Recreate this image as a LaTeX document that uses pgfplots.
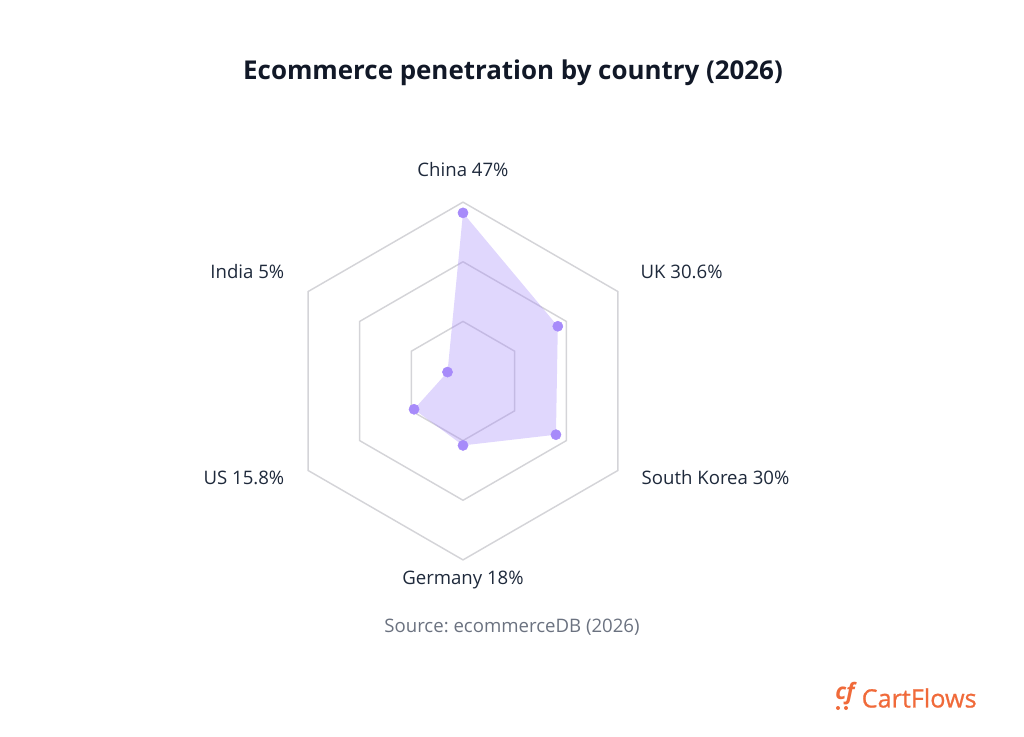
\documentclass[border=0pt]{standalone}
\usepackage{fontspec}
\setmainfont{Open Sans}
\newfontfamily\cffont[FakeBold=0.8]{Open Sans}
\usepackage{pgfplots}
\pgfplotsset{compat=1.18}
\usepgfplotslibrary{polar}
\definecolor{gridgray}{HTML}{D4D4D8}
\definecolor{violetdot}{HTML}{A78BFA}
\definecolor{inkdark}{HTML}{111827}
\definecolor{labelink}{HTML}{1E293B}
\definecolor{srcgray}{HTML}{6B7280}
\definecolor{cfor}{HTML}{F06A3A}

\begin{document}
\frenchspacing
\begin{tikzpicture}
% px frame: 1px = 0.75bp, y downward
\begin{scope}[x=0.75bp,y=-0.75bp]
  \path[use as bounding box] (0,0) rectangle (1024,737);
  \node[font=\bfseries\fontsize{19.5}{23}\selectfont, text=inkdark] at (513,73) {Ecommerce penetration by country (2026)};
  \node[font=\fontsize{14}{16}\selectfont, text=labelink] at (463,170) {China 47\%};
  \node[font=\fontsize{14}{16}\selectfont, text=labelink, anchor=west] at (636,272) {UK 30.6\%};
  \node[font=\fontsize{14}{16}\selectfont, text=labelink, anchor=west] at (637,478) {South Korea 30\%};
  \node[font=\fontsize{14}{16}\selectfont, text=labelink] at (463,580) {Germany 18\%};
  \node[font=\fontsize{14}{16}\selectfont, text=labelink, anchor=east] at (289,478) {US 15.8\%};
  \node[font=\fontsize{14}{16}\selectfont, text=labelink, anchor=east] at (289,272) {India 5\%};
  \node[font=\fontsize{14}{16}\selectfont, text=srcgray] at (512,627) {Source: ecommerceDB (2026)};
  \node[font=\cffont\fontsize{19}{21}\selectfont, text=cfor, anchor=west] at (857,698) {CartFlows};
  \node[font=\bfseries\fontsize{17}{18}\selectfont\itshape, text=cfor] at (845,694) {cf};
  \fill[cfor] (838,708) circle (2) (846,708) circle (2);
\end{scope}

\begin{axis}[
    at={(463*0.75bp,-381*0.75bp)}, anchor=origin,
    scale only axis,
    width=322bp, height=322bp,
    xmin=-60, xmax=60, ymin=-60, ymax=60,
    axis lines=none, ticks=none,
    clip=false,
    data cs=polar,
  ]
  % hexagonal grid rings
  \addplot[gridgray, line width=1.1bp, no marks] coordinates {(90,50) (30,50) (-30,50) (-90,50) (-150,50) (150,50) (90,50)};
  \addplot[gridgray, line width=1.1bp, no marks] coordinates {(90,33.333) (30,33.333) (-30,33.333) (-90,33.333) (-150,33.333) (150,33.333) (90,33.333)};
  \addplot[gridgray, line width=1.1bp, no marks] coordinates {(90,16.667) (30,16.667) (-30,16.667) (-90,16.667) (-150,16.667) (150,16.667) (90,16.667)};
  % data: China, UK, South Korea, Germany, US, India
  \addplot[draw=none, fill=violetdot, fill opacity=0.35, mark=none] coordinates {(90,47) (30,30.6) (-30,30) (-90,18) (-150,15.8) (150,5)} -- cycle;
  \addplot[only marks, mark=*, mark size=3.8bp, violetdot] coordinates {(90,47) (30,30.6) (-30,30) (-90,18) (-150,15.8) (150,5)};
\end{axis}
\end{tikzpicture}
\end{document}
